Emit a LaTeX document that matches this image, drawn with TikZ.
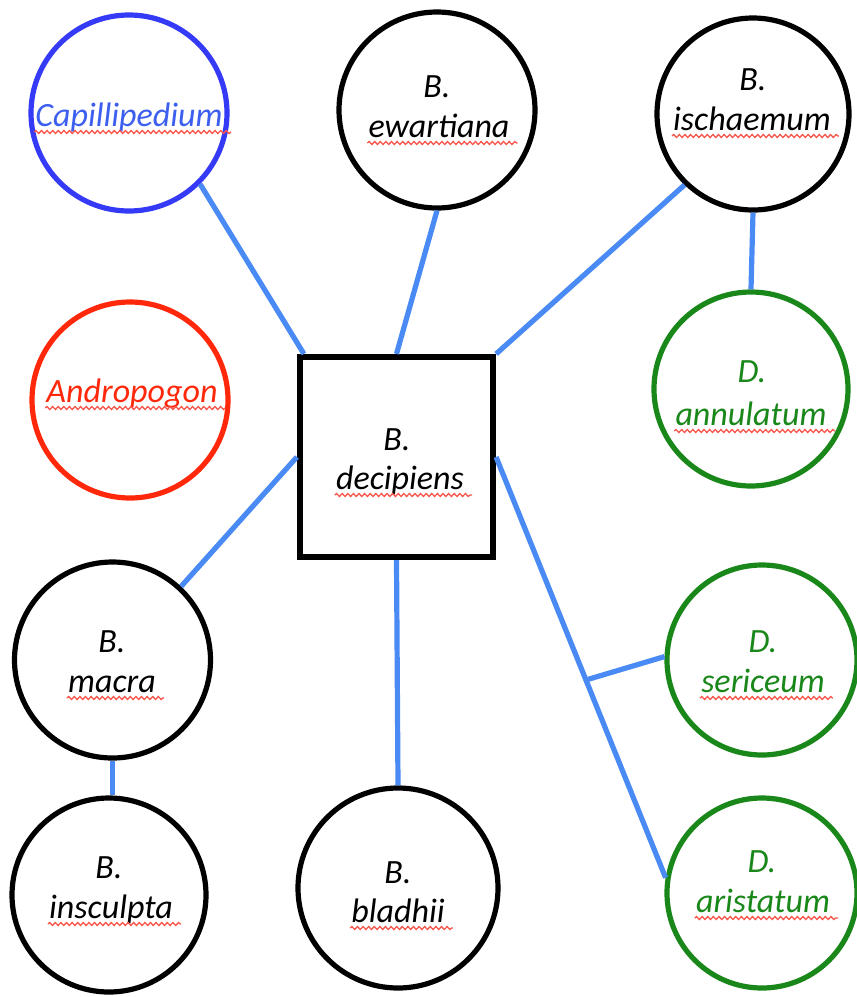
\documentclass[tikz,border=0pt]{standalone}
\usepackage{fontspec}
\setmainfont{Carlito}
\usetikzlibrary{calc,decorations.pathmorphing}

\definecolor{linkblue}{RGB}{74,138,244}
\definecolor{capblue}{RGB}{52,58,245}
\definecolor{captext}{RGB}{60,95,240}
\definecolor{androred}{RGB}{255,40,10}
\definecolor{dichgreen}{RGB}{25,135,25}
\definecolor{spellred}{RGB}{250,85,75}

\tikzset{
  taxon/.style={circle, draw=#1, line width=5.2pt, inner sep=0pt, minimum size=196pt, fill=white},
  hub/.style={rectangle, draw=black, line width=6.2pt, inner sep=0pt, minimum width=193pt, minimum height=200pt, fill=white},
  link/.style={draw=linkblue, line width=5.2pt},
  taxlabel/.style={font=\fontsize{34}{40}\selectfont\itshape, inner sep=0pt, anchor=base},
  spell/.style={draw=spellred, line width=1.3pt, decorate,
    decoration={snake, amplitude=1.5pt, segment length=5.6pt}},
}

% species line with its wavy spelling mark
\newcommand\speciesline[5]{%
  \node[taxlabel, text=#4] (#1) at (#2,#3) {#5};
  \draw[spell] ($(#1.base west)+(-1,6)$) -- ($(#1.base east)+(8,6)$);
}

\begin{document}
\begin{tikzpicture}[x={(1pt,0)}, y={(0,-1pt)}]
  \fill[white] (0,0) rectangle (857,997);
  \useasboundingbox (0,0) rectangle (857,997);

  % central box with a soft shadow
  \fill[black!35] (302,359) rectangle (496,560);
  \node[hub] (sq) at (396.5,457) {};

  % circles
  \node[taxon=capblue]   (cap) at (129,113) {};
  \node[taxon=black]     (ew)  at (437,110) {};
  \node[taxon=black, minimum size=192pt] (is) at (753,114) {};
  \node[taxon=androred]  (an)  at (130,400) {};
  \node[taxon=dichgreen, minimum size=194pt] (ann) at (751,389) {};
  \node[taxon=black]     (ma)  at (112.5,660) {};
  \node[taxon=black, minimum size=194pt] (ins) at (109,895) {};
  \node[taxon=black, minimum size=200pt] (bl)  at (398,888) {};
  \node[taxon=dichgreen, minimum size=190pt] (se) at (762,660) {};
  \node[taxon=dichgreen, minimum size=190pt] (ar) at (762,893) {};

  % connectors
  \draw[link] (cap.-45) -- ($(sq.north west)+(7,0)$);
  \draw[link] (ew.south) -- (sq.north);
  \draw[link] (is.-134) -- (sq.north east);
  \draw[link] (is.south) -- (ann.north);
  \draw[link] (sq.west) -- (ma.47);
  \draw[link] (sq.south) -- (bl.north);
  \draw[link] (sq.east) -- (ar.171);
  \coordinate (fork) at ($(sq.east)!0.53!(ar.171)$);
  \draw[link] (fork) -- (se.178);
  \draw[link] (ma.south) -- (ma.south |- ins.north);

  % labels
  \speciesline{cap-s}{129}{126}{captext}{Capillipedium}
  \speciesline{an-s}{132}{402}{androred}{Andropogon}

  \node[taxlabel] (ew-g) at (437,97) {B.};
  \speciesline{ew-s}{439}{137}{black}{ewartiana}

  \node[taxlabel] (is-g) at (753,90) {B.};
  \speciesline{is-s}{752}{130}{black}{ischaemum}

  \node[taxlabel, text=dichgreen] (ann-g) at (752,382) {D.};
  \speciesline{ann-s}{751}{425}{dichgreen}{annulatum}

  \node[taxlabel] (sq-g) at (397,450) {B.};
  \speciesline{sq-s}{400}{489}{black}{decipiens}

  \node[taxlabel] (ma-g) at (112,652) {B.};
  \speciesline{ma-s}{112}{692}{black}{macra}

  \node[taxlabel, text=dichgreen] (se-g) at (763,652) {D.};
  \speciesline{se-s}{763}{692}{dichgreen}{sericeum}

  \node[taxlabel] (ins-g) at (109,878) {B.};
  \speciesline{ins-s}{111}{918}{black}{insculpta}

  \node[taxlabel] (bl-g) at (398,883) {B.};
  \speciesline{bl-s}{398}{922}{black}{bladhii}

  \node[taxlabel, text=dichgreen] (ar-g) at (762,872) {D.};
  \speciesline{ar-s}{763}{912}{dichgreen}{aristatum}
\end{tikzpicture}
\end{document}
